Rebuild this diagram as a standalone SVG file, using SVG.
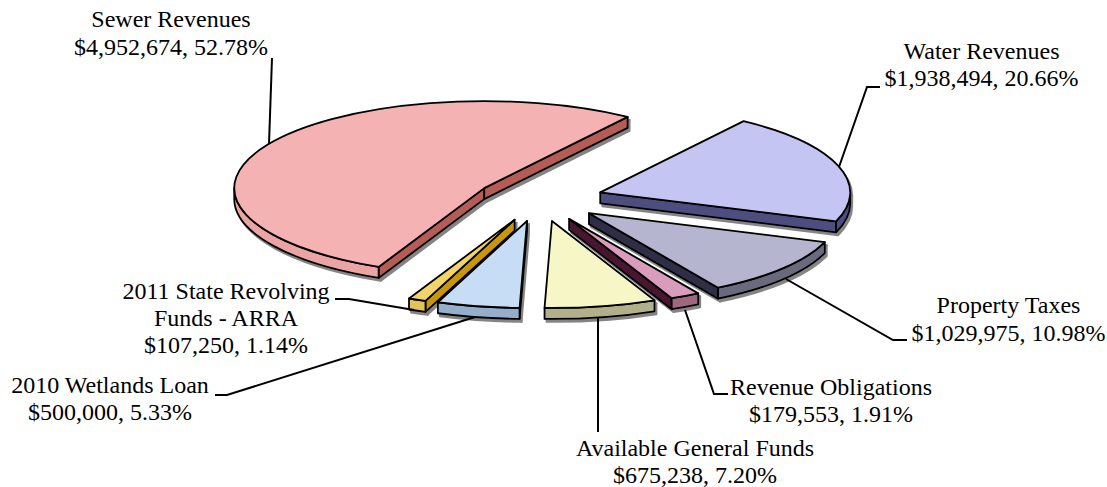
<svg xmlns="http://www.w3.org/2000/svg" width="1107" height="487" viewBox="0 0 1107 487">
  <style>
    .edge { stroke: #000; stroke-width: 1.8; stroke-linejoin: round; }
    .lbl { font-family: "Liberation Serif", "Times New Roman", serif; font-size: 24px; fill: #000; text-anchor: middle; }
    .lead { fill: none; stroke: #000; stroke-width: 2; stroke-linejoin: miter; }
  </style>
  <defs>
    <!-- shared drop shadow under each exploded slice -->
    <filter id="drop" x="-10%" y="-10%" width="120%" height="130%">
      <feOffset in="SourceAlpha" dx="1.5" dy="3" result="off"/>
      <feFlood flood-color="#333333" flood-opacity="0.6"/>
      <feComposite in2="off" operator="in" result="shadow"/>
      <feMerge>
        <feMergeNode in="shadow"/>
        <feMergeNode in="SourceGraphic"/>
      </feMerge>
    </filter>
  </defs>

  <rect width="1107" height="487" fill="#fff"/>

  <!-- Sewer Revenues -->
  <g id="slice-sewer" filter="url(#drop)">
    <path class="edge" fill="#b55b57" d="M484.25,188.1 L378.63,266.95 L378.63,277.95 L484.25,199.1 Z"/>
    <path class="edge" fill="#b55b57" d="M484.25,188.1 L627.65,116.83 L627.65,127.83 L484.25,199.1 Z"/>
    <path class="edge" fill="#eba4a4" d="M234.25,188.1 A250,87 0 0 0 378.63,266.95 L378.63,277.95 A250,87 0 0 1 234.25,199.1 Z"/>
    <path class="edge" fill="#f4b2b2" d="M484.25,188.1 L627.65,116.83 A250,87 0 1 0 378.63,266.95 Z"/>
  </g>

  <!-- Water Revenues -->
  <g id="slice-water" filter="url(#drop)">
    <path class="edge" fill="#4d4d80" d="M600.24,192.41 L836.08,221.28 L836.08,232.28 L600.24,203.41 Z"/>
    <path class="edge" fill="#4d4d80" d="M850.24,192.41 A250,87 0 0 1 836.08,221.28 L836.08,232.28 A250,87 0 0 0 850.24,203.41 Z"/>
    <path class="edge" fill="#c5c5f3" d="M600.24,192.41 L743.64,121.14 A250,87 0 0 1 836.08,221.28 Z"/>
  </g>

  <!-- Property Taxes -->
  <g id="slice-property" filter="url(#drop)">
    <path class="edge" fill="#2e2e46" d="M588.97,213.22 L718.09,287.72 L718.09,298.72 L588.97,224.22 Z"/>
    <path class="edge" fill="#6b6b7e" d="M824.81,242.09 A250,87 0 0 1 718.09,287.72 L718.09,298.72 A250,87 0 0 0 824.81,253.09 Z"/>
    <path class="edge" fill="#b5b5d0" d="M588.97,213.22 L824.81,242.09 A250,87 0 0 1 718.09,287.72 Z"/>
  </g>

  <!-- Revenue Obligations -->
  <g id="slice-obligations" filter="url(#drop)">
    <path class="edge" fill="#4a1830" d="M569.11,218.86 L671.67,298.2 L671.67,309.2 L569.11,229.86 Z"/>
    <path class="edge" fill="#a0687f" d="M698.23,293.36 A250,87 0 0 1 671.67,298.2 L671.67,309.2 A250,87 0 0 0 698.23,304.36 Z"/>
    <path class="edge" fill="#d99cbc" d="M569.11,218.86 L698.23,293.36 A250,87 0 0 1 671.67,298.2 Z"/>
  </g>

  <!-- Available General Funds -->
  <g id="slice-general" filter="url(#drop)">
    <path class="edge" fill="#b1b08a" d="M654.52,300.31 A250,87 0 0 1 544.54,307.93 L544.54,318.93 A250,87 0 0 0 654.52,311.31 Z"/>
    <path class="edge" fill="#f7f6c6" d="M551.96,220.97 L654.52,300.31 A250,87 0 0 1 544.54,307.93 Z"/>
  </g>

  <!-- 2011 State Revolving Funds - ARRA -->
  <g id="slice-revolving" filter="url(#drop)">
    <path class="edge" fill="#c8960f" d="M514.63,219.64 L425.5,300.92 L425.5,311.92 L514.63,230.64 Z"/>
    <path class="edge" fill="#e3c25a" d="M425.5,300.92 A250,87 0 0 1 409.01,298.49 L409.01,309.49 A250,87 0 0 0 425.5,311.92 Z"/>
    <path class="edge" fill="#f3d467" d="M514.63,219.64 L425.5,300.92 A250,87 0 0 1 409.01,298.49 Z"/>
  </g>

  <!-- 2010 Wetlands Loan -->
  <g id="slice-wetlands" filter="url(#drop)">
    <path class="edge" fill="#4a5a70" d="M527,220.97 L519.58,307.93 L519.58,318.93 L527,231.97 Z"/>
    <path class="edge" fill="#94aecb" d="M519.58,307.93 A250,87 0 0 1 437.87,302.25 L437.87,313.25 A250,87 0 0 0 519.58,318.93 Z"/>
    <path class="edge" fill="#c7ddf6" d="M527,220.97 L519.58,307.93 A250,87 0 0 1 437.87,302.25 Z"/>
  </g>

  <!-- leader lines from labels to slices -->
  <g id="connectors">
    <path class="lead" d="M272,58 L269,144"/>
    <path class="lead" d="M880,87 L867,87 L839,167"/>
    <path class="lead" d="M786,279 L893,340 L907,340"/>
    <path class="lead" d="M685,310 L714,394 L728,394"/>
    <path class="lead" d="M598,317 L598,432"/>
    <path class="lead" d="M215,395 L227,395 L475,317"/>
    <path class="lead" d="M335,299 L349,299 L414,310"/>
  </g>

  <!-- labels -->
  <g id="labels">
    <text class="lbl" x="171" y="27">Sewer Revenues</text>
    <text class="lbl" x="171" y="55">$4,952,674, 52.78%</text>
    <text class="lbl" x="981.5" y="59">Water Revenues</text>
    <text class="lbl" x="981.5" y="86">$1,938,494, 20.66%</text>
    <text class="lbl" x="1008.5" y="313">Property Taxes</text>
    <text class="lbl" x="1008.5" y="341">$1,029,975, 10.98%</text>
    <text class="lbl" x="831" y="395">Revenue Obligations</text>
    <text class="lbl" x="831" y="422">$179,553, 1.91%</text>
    <text class="lbl" x="695" y="456">Available General Funds</text>
    <text class="lbl" x="695" y="483">$675,238, 7.20%</text>
    <text class="lbl" x="110" y="393">2010 Wetlands Loan</text>
    <text class="lbl" x="110" y="420">$500,000, 5.33%</text>
    <text class="lbl" x="226" y="299">2011 State Revolving</text>
    <text class="lbl" x="226" y="326">Funds - ARRA</text>
    <text class="lbl" x="226" y="353">$107,250, 1.14%</text>
  </g>
</svg>
